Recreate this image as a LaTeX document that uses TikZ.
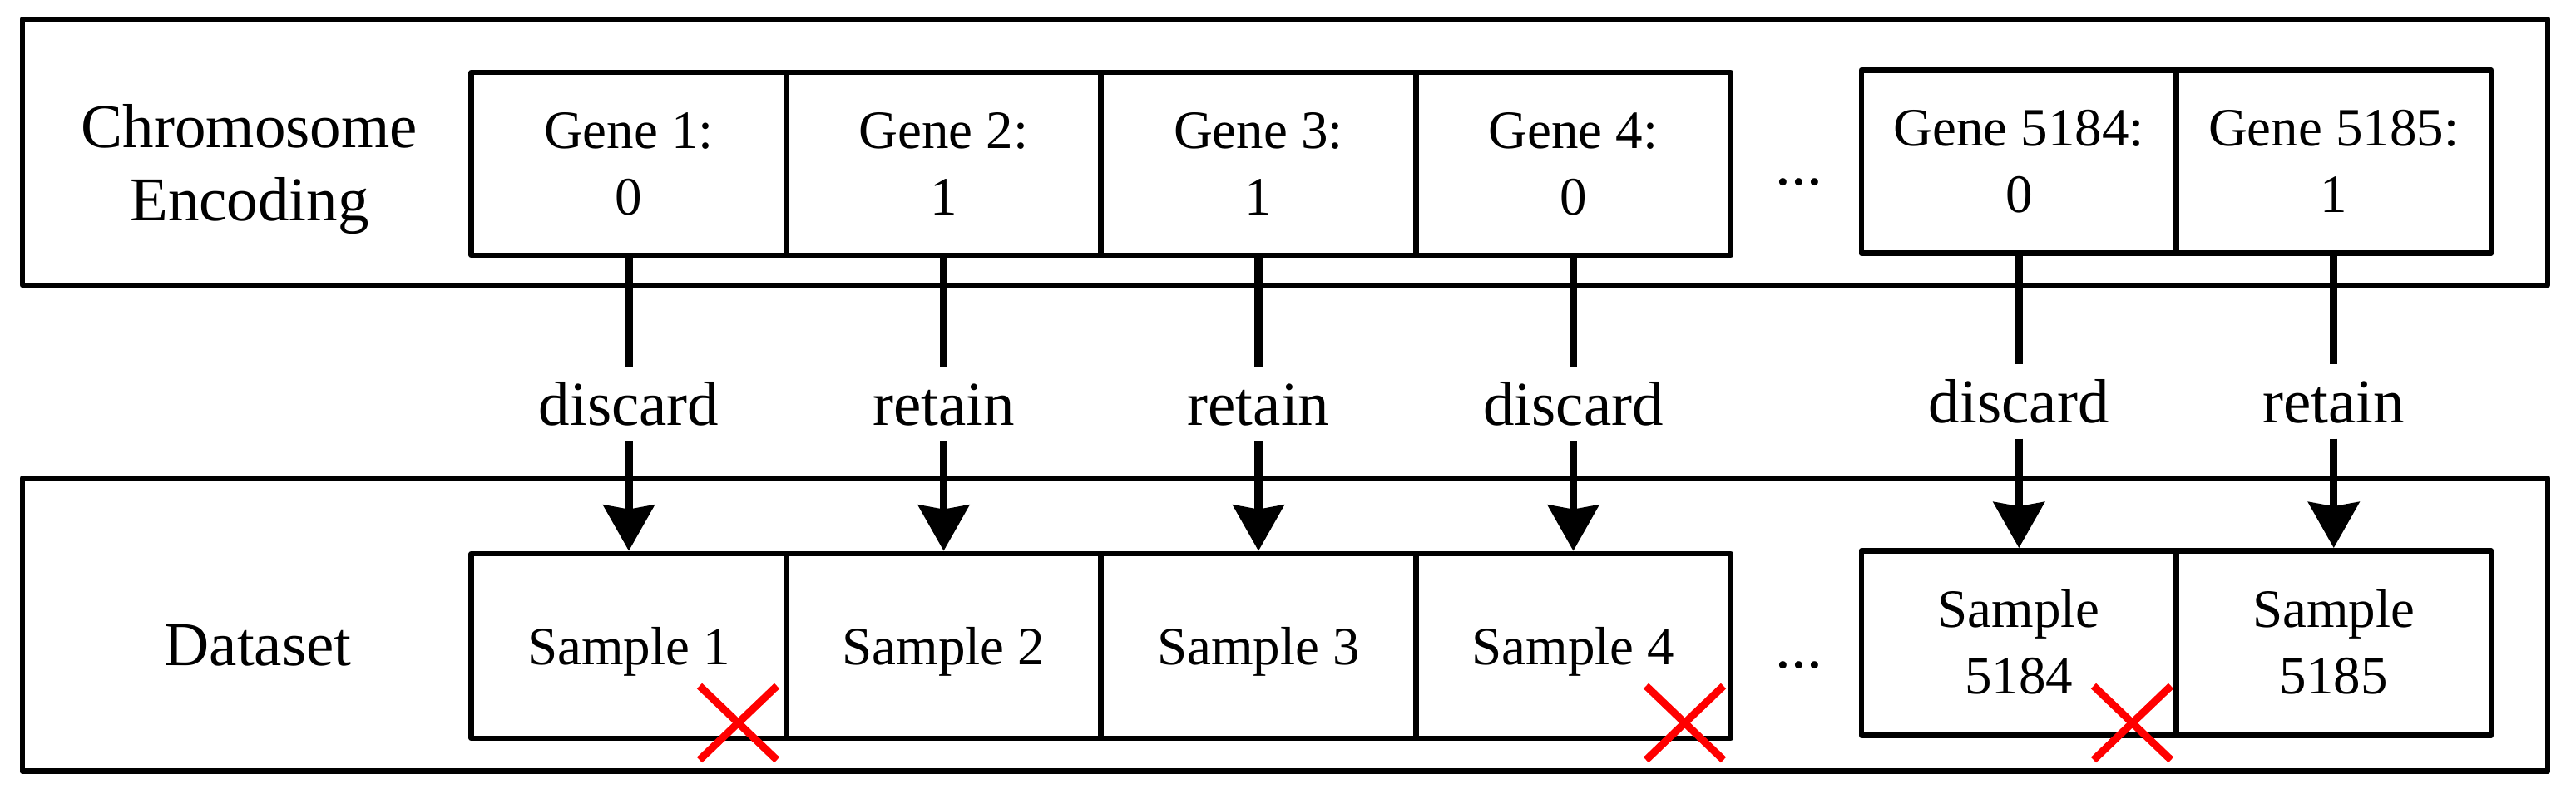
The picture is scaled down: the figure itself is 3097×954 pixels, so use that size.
\documentclass[tikz,border=0pt]{standalone}
\usepackage{fontspec}
\setmainfont{Liberation Serif}
\usetikzlibrary{arrows.meta}
\newcommand\twolines[2]{\begin{tabular}[b]{@{}c@{}}#1\\#2\end{tabular}}
\begin{document}
\begin{tikzpicture}[x=1pt,y=-1pt,
  outerbox/.style={draw, line width=6.8pt, line join=round, minimum width=3036pt, inner sep=0pt, outer sep=0pt},
  cell/.style={draw, line width=6.8pt, line join=round, minimum width=378.5pt, inner sep=0pt, font=\fontsize{65}{80}\selectfont, text depth=0pt},
  genecell/.style={cell, minimum height=220pt, text height=122pt},
  samplecell/.style={cell, minimum height=222pt, text height=44pt},
  samplecelltwo/.style={cell, minimum height=222pt, text height=122pt},
  bigtext/.style={font=\fontsize{75}{88}\selectfont, inner sep=0pt, outer sep=0pt},
  actlabel/.style={bigtext, text height=51pt, text depth=0pt, inner xsep=0pt, inner ysep=19.5pt, anchor=base},
  flow/.style={line width=9.3pt},
  flowarrow/.style={flow, -{Stealth[length=55pt, width=61pt, inset=5pt]}},
  cross/.style={draw=red, line width=9pt}
]
\useasboundingbox (0,0) rectangle (3097,954);

% outer frames
\node[outerbox, minimum height=320pt] (chromframe) at (1545,183) {};
\node[outerbox, minimum height=352pt] (dataframe) at (1545,751.5) {};

% row titles
\node[bigtext, anchor=base] (chromlabel) at (300,265) {\twolines{Chromosome}{Encoding}};
\node[bigtext, anchor=base] (datalabel) at (310,800) {Dataset};

% genes
\node[genecell] (g1) at (756,197) {\twolines{Gene 1:}{0}};
\node[genecell] (g2) at (1134.5,197) {\twolines{Gene 2:}{1}};
\node[genecell] (g3) at (1513,197) {\twolines{Gene 3:}{1}};
\node[genecell] (g4) at (1891.5,197) {\twolines{Gene 4:}{0}};
\node[genecell] (g5) at (2427.25,194.5) {\twolines{Gene 5184:}{0}};
\node[genecell] (g6) at (2805.75,194.5) {\twolines{Gene 5185:}{1}};
\node[bigtext, anchor=base] (dotsg) at (2163,222) {...};

% samples
\node[samplecell] (s1) at (756,777) {Sample 1};
\node[samplecell] (s2) at (1134.5,777) {Sample 2};
\node[samplecell] (s3) at (1513,777) {Sample 3};
\node[samplecell] (s4) at (1891.5,777) {Sample 4};
\node[samplecelltwo] (s5) at (2427.25,773.5) {\twolines{Sample}{5184}};
\node[samplecelltwo] (s6) at (2805.75,773.5) {\twolines{Sample}{5185}};
\node[bigtext, anchor=base] (dotss) at (2163,803) {...};

% decision labels
\node[actlabel] (l1) at (756,511) {discard};
\node[actlabel] (l2) at (1134.5,511) {retain};
\node[actlabel] (l3) at (1513,511) {retain};
\node[actlabel] (l4) at (1891.5,511) {discard};
\node[actlabel] (l5) at (2427.25,508) {discard};
\node[actlabel] (l6) at (2805.75,508) {retain};

% connectors
\foreach \i in {1,...,6}{
  \draw[flow] (g\i.south) -- (l\i.north);
  \draw[flowarrow] (l\i.south) -- (s\i.north);
}

% red crosses on discarded samples
\draw[cross] (841,825) -- (934,914) (934,825) -- (841,914);
\draw[cross] (1979,825) -- (2072,914) (2072,825) -- (1979,914);
\draw[cross] (2517,825) -- (2610,914) (2610,825) -- (2517,914);
\end{tikzpicture}
\end{document}
